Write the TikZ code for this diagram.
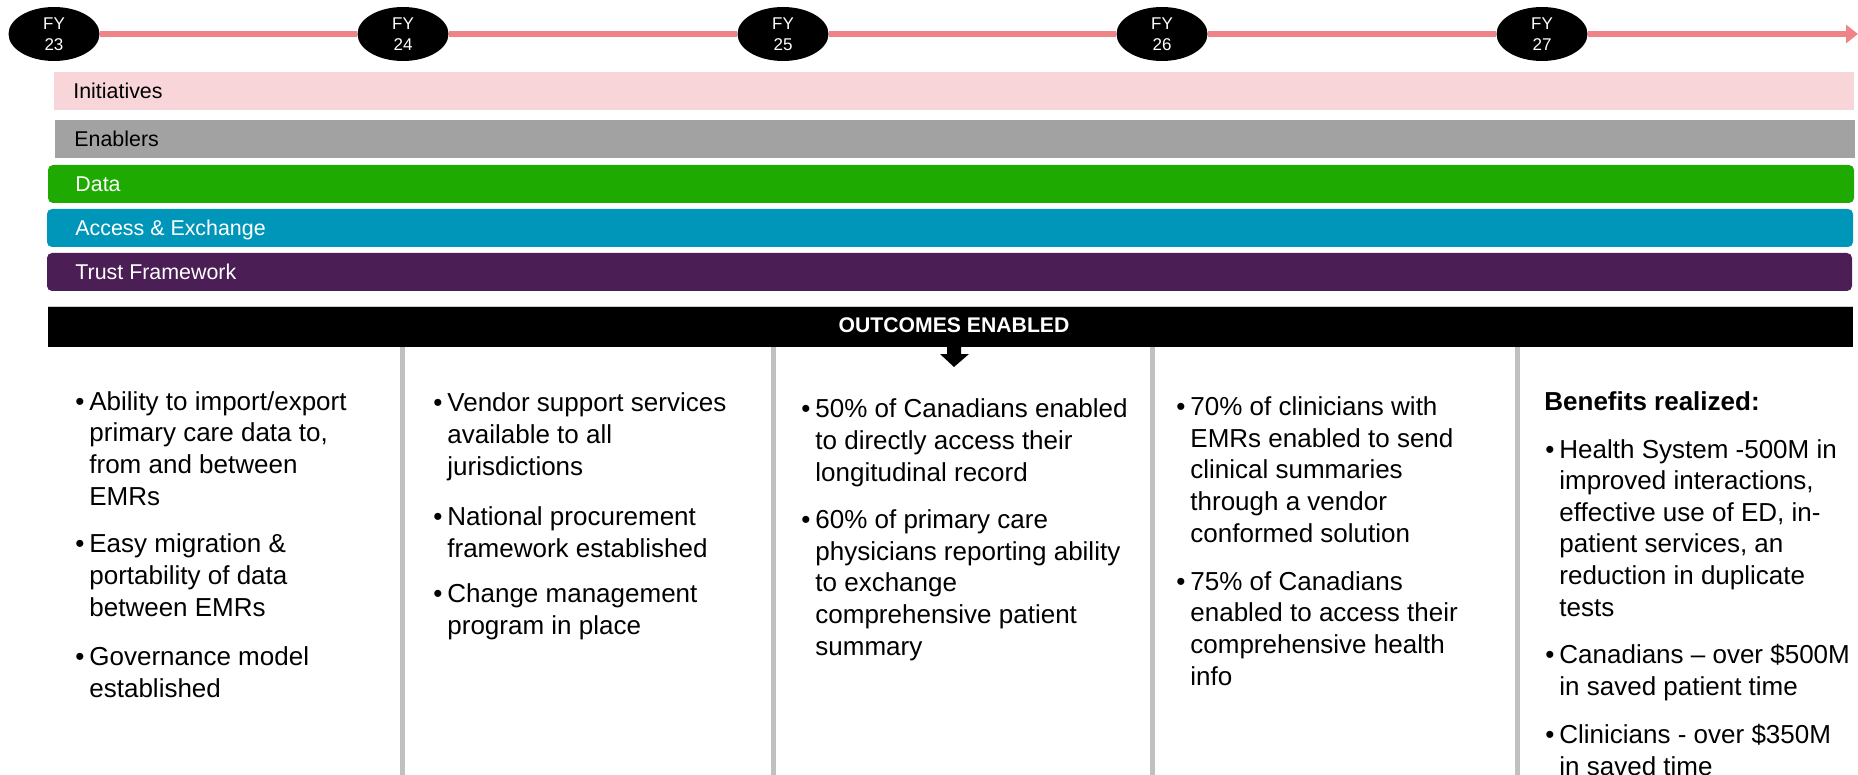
\documentclass[tikz,border=0pt]{standalone}
\usepackage{fontspec}
\setmainfont{Liberation Sans}
\usetikzlibrary{shapes.geometric,arrows.meta}
\definecolor{tlc}{HTML}{EF8388}
\definecolor{pinkbar}{HTML}{F8D5D8}
\definecolor{graybar}{HTML}{A2A2A2}
\definecolor{greenbar}{HTML}{1EAA00}
\definecolor{bluebar}{HTML}{0096B9}
\definecolor{purplebar}{HTML}{4B1F55}
\definecolor{divc}{HTML}{C0C0C0}
\tikzset{
  fy/.style={ellipse, fill=black, minimum width=45.5pt, minimum height=27pt, inner sep=0pt,
    align=center, text=white, font=\fontsize{8.5pt}{10.5pt}\selectfont},
  tline/.style={draw=tlc, line width=3pt},
  barlabel/.style={anchor=base west, inner sep=0pt, font=\fontsize{10.7pt}{12pt}\selectfont},
  item/.style={anchor=base west, align=left, inner sep=0pt, text=black,
    font=\fontsize{13pt}{15.8pt}\selectfont},
  divider/.style={fill=divc},
}
\newcommand{\bul}{\llap{•\hspace{2.5pt}}}
\begin{document}
\begin{tikzpicture}[x=0.5pt,y=-0.5pt]
\useasboundingbox (0,0) rectangle (1858,775);
% timeline
\node[fy] (fy23) at (54,34) {FY\\23};
\node[fy] (fy24) at (403,34) {FY\\24};
\node[fy] (fy25) at (783,34) {FY\\25};
\node[fy] (fy26) at (1162,34) {FY\\26};
\node[fy] (fy27) at (1542,34) {FY\\27};
\coordinate (tend) at (1858,34);
\draw[tline] (fy23.east) -- (fy24.west);
\draw[tline] (fy24.east) -- (fy25.west);
\draw[tline] (fy25.east) -- (fy26.west);
\draw[tline] (fy26.east) -- (fy27.west);
\draw[tline, -{Triangle[length=6pt,width=9pt]}] (fy27.east) -- (tend);
% bars
\fill[pinkbar] (54,72) rectangle (1854,110);
\node[barlabel] (init) at (73,99) {Initiatives};
\fill[graybar] (55,120) rectangle (1855,158);
\node[barlabel] (enab) at (74,147) {Enablers};
\fill[greenbar, rounded corners=2.5pt] (48,165) rectangle (1854,203);
\node[barlabel, text=white] (data) at (75,192) {Data};
\fill[bluebar, rounded corners=2.5pt] (47,209) rectangle (1853,247);
\node[barlabel, text=white] (acc) at (75,236) {Access \& Exchange};
\fill[purplebar, rounded corners=2.5pt] (47,253) rectangle (1852,291);
\node[barlabel, text=white] (trust) at (75,280) {Trust Framework};
% outcomes bar
\fill[black!20] (48,306) rectangle (1853,347);
\fill[black] (48,307) rectangle (1853,347);
\node[anchor=base, inner sep=0pt, text=white, font=\bfseries\fontsize{10.6pt}{12pt}\selectfont] (outc) at (954,333) {OUTCOMES ENABLED};
\fill[black] (947,346) -- (961,346) -- (961,354) -- (969,354) -- (954,367) -- (940,354) -- (947,354) -- cycle;
% dividers
\fill[divider] (400,347) rectangle (405,775);
\fill[divider] (771,347) rectangle (776,775);
\fill[divider] (1150,347) rectangle (1155,775);
\fill[divider] (1515,347) rectangle (1520,775);
% column 1 (anchors at the baseline of each paragraph's last line)
\node[item] (c1a) at (89,505) {\bul Ability to import/export\\primary care data to,\\from and between\\EMRs};
\node[item] (c1b) at (89,616) {\bul Easy migration \&\\portability of data\\between EMRs};
\node[item] (c1c) at (89,697) {\bul Governance model\\established};
% column 2
\node[item] (c2a) at (447,475) {\bul Vendor support services\\available to all\\jurisdictions};
\node[item] (c2b) at (447,557) {\bul National procurement\\framework established};
\node[item] (c2c) at (447,634) {\bul Change management\\program in place};
% column 3
\node[item] (c3a) at (815,481) {\bul 50\% of Canadians enabled\\to directly access their\\longitudinal record};
\node[item] (c3b) at (815,655) {\bul 60\% of primary care\\physicians reporting ability\\to exchange\\comprehensive patient\\summary};
% column 4
\node[item] (c4a) at (1190,542) {\bul 70\% of clinicians with\\EMRs enabled to send\\clinical summaries\\through a vendor\\conformed solution};
\node[item] (c4b) at (1190,685) {\bul 75\% of Canadians\\enabled to access their\\comprehensive health\\info};
% column 5
\node[item, font=\bfseries\fontsize{13pt}{15.8pt}\selectfont] (c5h) at (1544,410) {Benefits realized:};
\node[item] (c5a) at (1559,616) {\bul Health System -500M in\\improved interactions,\\effective use of ED, in-\\patient services, an\\reduction in duplicate\\tests};
\node[item] (c5b) at (1559,695) {\bul Canadians – over \$500M\\in saved patient time};
\node[item] (c5c) at (1559,775) {\bul Clinicians - over \$350M\\in saved time};
\end{tikzpicture}
\end{document}
